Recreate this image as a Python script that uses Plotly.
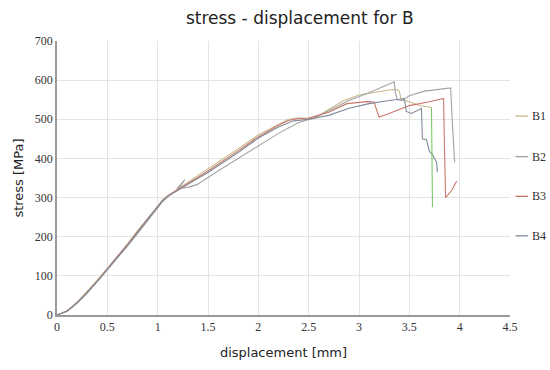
import plotly.graph_objects as go

# ---- data ----
b1_x = [0, 0.1, 0.2, 0.3, 0.4, 0.5, 0.6, 0.7, 0.8, 0.9, 1.0, 1.05, 1.1, 1.2, 1.4, 1.6, 1.8, 2.0, 2.2, 2.3, 2.4, 2.5, 2.55,
        2.7, 2.85, 3.0, 3.15, 3.3, 3.38, 3.4, 3.42, 3.5, 3.6, 3.7, 3.72]
b1_y = [0, 11, 33, 60, 89, 119, 150, 182, 215, 248, 280, 295, 305, 322, 355, 390, 425, 460, 487, 500, 503, 500, 502,
        525, 548, 562, 568, 575, 576, 572, 550, 545, 535, 530, 530]
b1_drop_x = [3.72, 3.725, 3.73]
b1_drop_y = [530, 400, 275]

b2_x = [0, 0.1, 0.2, 0.3, 0.4, 0.5, 0.6, 0.7, 0.8, 0.9, 1.0, 1.05, 1.1, 1.2, 1.27, 1.19, 1.3, 1.39, 1.6, 1.8, 2.0, 2.2, 2.4,
        2.55, 2.7, 2.9, 3.1, 3.25, 3.35, 3.36, 3.38, 3.43, 3.5, 3.65, 3.8, 3.91, 3.93, 3.95]
b2_y = [0, 9, 30, 56, 85, 115, 145, 176, 208, 241, 273, 290, 302, 320, 346, 322, 326, 333, 368, 400, 433, 464, 492,
        503, 522, 548, 568, 585, 596, 570, 550, 548, 560, 572, 577, 580, 480, 390]

b3_x = [0, 0.1, 0.2, 0.3, 0.4, 0.5, 0.6, 0.7, 0.8, 0.9, 1.0, 1.05, 1.1, 1.2, 1.5, 1.8, 2.0, 2.2, 2.3, 2.4, 2.5, 2.7,
        2.88, 3.08, 3.15, 3.18, 3.2, 3.3, 3.5, 3.7, 3.84, 3.85, 3.86, 3.92, 3.97]
b3_y = [0, 10, 32, 58, 87, 117, 148, 180, 213, 246, 278, 293, 304, 320, 368, 420, 455, 485, 497, 502, 503, 518,
        540, 545, 544, 520, 506, 515, 535, 545, 553, 420, 300, 318, 342]

b4_x = [0, 0.1, 0.2, 0.3, 0.4, 0.5, 0.6, 0.7, 0.8, 0.9, 1.0, 1.05, 1.1, 1.2, 1.5, 1.8, 2.0, 2.2, 2.35, 2.5, 2.7, 2.9,
        3.1, 3.3, 3.45, 3.47, 3.52, 3.6, 3.62, 3.63, 3.67, 3.7, 3.73, 3.75, 3.77, 3.78]
b4_y = [0, 10, 31, 57, 86, 116, 147, 178, 211, 244, 276, 292, 303, 318, 364, 415, 452, 480, 496, 500, 510, 528,
        540, 548, 553, 520, 515, 525, 528, 450, 448, 418, 410, 400, 390, 365]

series_names = ["B1", "B2", "B3", "B4"]
series_colors = ["#c8b88c", "#a2a2a2", "#c9786c", "#7f8c9a"]
x_ticks = [0, 0.5, 1, 1.5, 2, 2.5, 3, 3.5, 4, 4.5]
x_tick_labels = ["0", "0.5", "1", "1.5", "2", "2.5", "3", "3.5", "4", "4.5"]
y_ticks = [0, 100, 200, 300, 400, 500, 600, 700]

fig = go.Figure()
for name, xs, ys, col in zip(series_names, [b1_x, b2_x, b3_x, b4_x], [b1_y, b2_y, b3_y, b4_y], series_colors):
    fig.add_trace(go.Scatter(x=xs, y=ys, mode="lines", name=name,
                             line=dict(color=col, width=1.1), showlegend=False))
fig.add_trace(go.Scatter(x=b1_drop_x, y=b1_drop_y, mode="lines", name="B1",
                         line=dict(color="#7cc86a", width=1.1), showlegend=False))

# manual legend (right side)
legend_y = [0.726, 0.578, 0.433, 0.289]
for name, col, ly in zip(series_names, series_colors, legend_y):
    fig.add_shape(type="line", xref="paper", yref="paper", x0=1.012, x1=1.04, y0=ly, y1=ly,
                  line=dict(color=col, width=1.3))
    fig.add_annotation(x=1.045, y=ly, xref="paper", yref="paper", text=name, showarrow=False,
                       xanchor="left", yanchor="middle",
                       font=dict(family="Liberation Serif", size=12, color="#333333"))

fig.update_layout(
    width=550, height=370,
    margin=dict(l=57, r=40, t=41, b=52),
    paper_bgcolor="white", plot_bgcolor="white",
    title=dict(text="stress - displacement for B", x=0.545, xanchor="center", y=0.95, yanchor="middle",
               font=dict(family="DejaVu Sans", size=17, color="#222222")),
    showlegend=False,
)
fig.update_xaxes(range=[0, 4.5], tickvals=x_ticks, ticktext=x_tick_labels,
                 showgrid=True, gridcolor="#e4e4e4", gridwidth=1,
                 showline=True, linecolor="#9a9a9a", linewidth=1.5, zeroline=False,
                 ticks="", tickfont=dict(family="Liberation Serif", size=12, color="#333333"),
                 title=dict(text="displacement [mm]", standoff=15,
                            font=dict(family="DejaVu Sans", size=13, color="#222222")))
fig.update_yaxes(range=[0, 700], tickvals=y_ticks,
                 showgrid=True, gridcolor="#e4e4e4", gridwidth=1,
                 showline=True, linecolor="#9a9a9a", linewidth=1.5, zeroline=False,
                 ticks="", tickfont=dict(family="Liberation Serif", size=12, color="#333333"),
                 title=dict(text="stress [MPa]", standoff=8,
                            font=dict(family="DejaVu Sans", size=13, color="#222222")))

fig.write_html("out.html", config={"displayModeBar": False},
               post_script="document.body.style.margin='0';")
